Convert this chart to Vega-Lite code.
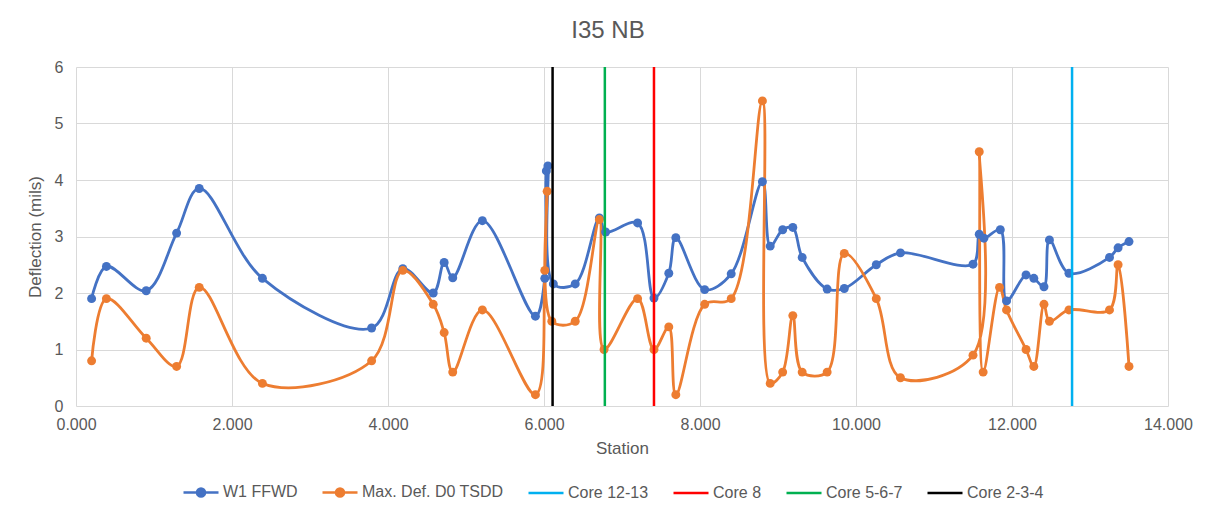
{
  "$schema": "https://vega.github.io/schema/vega-lite/v6.json",
  "autosize": {"type": "none"},
  "width": 1092,
  "height": 339,
  "padding": {"left": 76, "top": 67, "right": 42, "bottom": 114},
  "background": "white",
  "title": {
    "text": "I35 NB",
    "anchor": "middle",
    "dx": -14,
    "offset": 16,
    "fontSize": 24,
    "font": "Liberation Sans",
    "fontWeight": "normal",
    "color": "#595959"
  },
  "config": {
    "view": {"stroke": null},
    "font": "Liberation Sans",
    "axis": {
      "gridColor": "#d9d9d9",
      "gridWidth": 1,
      "domain": false,
      "ticks": false,
      "labelFlush": false,
      "labelColor": "#595959",
      "labelFont": "Liberation Sans",
      "labelFontSize": 16,
      "titleColor": "#595959",
      "titleFont": "Liberation Sans",
      "titleFontSize": 17,
      "titleFontWeight": "normal"
    }
  },
  "datasets": {
    "deflection": [
      {"station": 0.2, "value": 1.9, "series": "W1 FFWD"},
      {"station": 0.39, "value": 2.47, "series": "W1 FFWD"},
      {"station": 0.9, "value": 2.04, "series": "W1 FFWD"},
      {"station": 1.29, "value": 3.06, "series": "W1 FFWD"},
      {"station": 1.58, "value": 3.85, "series": "W1 FFWD"},
      {"station": 2.39, "value": 2.26, "series": "W1 FFWD"},
      {"station": 3.79, "value": 1.38, "series": "W1 FFWD"},
      {"station": 4.19, "value": 2.43, "series": "W1 FFWD"},
      {"station": 4.58, "value": 2.0, "series": "W1 FFWD"},
      {"station": 4.72, "value": 2.54, "series": "W1 FFWD"},
      {"station": 4.83, "value": 2.27, "series": "W1 FFWD"},
      {"station": 5.21, "value": 3.28, "series": "W1 FFWD"},
      {"station": 5.89, "value": 1.59, "series": "W1 FFWD"},
      {"station": 6.01, "value": 2.26, "series": "W1 FFWD"},
      {"station": 6.03, "value": 4.16, "series": "W1 FFWD"},
      {"station": 6.05, "value": 4.25, "series": "W1 FFWD"},
      {"station": 6.12, "value": 2.16, "series": "W1 FFWD"},
      {"station": 6.4, "value": 2.16, "series": "W1 FFWD"},
      {"station": 6.71, "value": 3.33, "series": "W1 FFWD"},
      {"station": 6.79, "value": 3.08, "series": "W1 FFWD"},
      {"station": 7.2, "value": 3.24, "series": "W1 FFWD"},
      {"station": 7.41, "value": 1.91, "series": "W1 FFWD"},
      {"station": 7.6, "value": 2.35, "series": "W1 FFWD"},
      {"station": 7.69, "value": 2.98, "series": "W1 FFWD"},
      {"station": 8.06, "value": 2.06, "series": "W1 FFWD"},
      {"station": 8.4, "value": 2.34, "series": "W1 FFWD"},
      {"station": 8.8, "value": 3.97, "series": "W1 FFWD"},
      {"station": 8.9, "value": 2.83, "series": "W1 FFWD"},
      {"station": 9.06, "value": 3.12, "series": "W1 FFWD"},
      {"station": 9.19, "value": 3.16, "series": "W1 FFWD"},
      {"station": 9.31, "value": 2.63, "series": "W1 FFWD"},
      {"station": 9.63, "value": 2.07, "series": "W1 FFWD"},
      {"station": 9.85, "value": 2.08, "series": "W1 FFWD"},
      {"station": 10.26, "value": 2.5, "series": "W1 FFWD"},
      {"station": 10.57, "value": 2.71, "series": "W1 FFWD"},
      {"station": 11.5, "value": 2.51, "series": "W1 FFWD"},
      {"station": 11.58, "value": 3.04, "series": "W1 FFWD"},
      {"station": 11.64, "value": 2.97, "series": "W1 FFWD"},
      {"station": 11.85, "value": 3.12, "series": "W1 FFWD"},
      {"station": 11.93, "value": 1.86, "series": "W1 FFWD"},
      {"station": 12.18, "value": 2.32, "series": "W1 FFWD"},
      {"station": 12.28, "value": 2.26, "series": "W1 FFWD"},
      {"station": 12.41, "value": 2.11, "series": "W1 FFWD"},
      {"station": 12.48, "value": 2.94, "series": "W1 FFWD"},
      {"station": 12.73, "value": 2.35, "series": "W1 FFWD"},
      {"station": 13.25, "value": 2.63, "series": "W1 FFWD"},
      {"station": 13.36, "value": 2.8, "series": "W1 FFWD"},
      {"station": 13.5, "value": 2.91, "series": "W1 FFWD"},
      {"station": 0.2, "value": 0.8, "series": "Max. Def. D0 TSDD"},
      {"station": 0.39, "value": 1.9, "series": "Max. Def. D0 TSDD"},
      {"station": 0.9, "value": 1.2, "series": "Max. Def. D0 TSDD"},
      {"station": 1.29, "value": 0.7, "series": "Max. Def. D0 TSDD"},
      {"station": 1.58, "value": 2.1, "series": "Max. Def. D0 TSDD"},
      {"station": 2.39, "value": 0.4, "series": "Max. Def. D0 TSDD"},
      {"station": 3.79, "value": 0.8, "series": "Max. Def. D0 TSDD"},
      {"station": 4.19, "value": 2.4, "series": "Max. Def. D0 TSDD"},
      {"station": 4.58, "value": 1.8, "series": "Max. Def. D0 TSDD"},
      {"station": 4.72, "value": 1.3, "series": "Max. Def. D0 TSDD"},
      {"station": 4.83, "value": 0.6, "series": "Max. Def. D0 TSDD"},
      {"station": 5.21, "value": 1.7, "series": "Max. Def. D0 TSDD"},
      {"station": 5.89, "value": 0.2, "series": "Max. Def. D0 TSDD"},
      {"station": 6.01, "value": 2.4, "series": "Max. Def. D0 TSDD"},
      {"station": 6.04, "value": 3.8, "series": "Max. Def. D0 TSDD"},
      {"station": 6.1, "value": 1.5, "series": "Max. Def. D0 TSDD"},
      {"station": 6.4, "value": 1.5, "series": "Max. Def. D0 TSDD"},
      {"station": 6.71, "value": 3.3, "series": "Max. Def. D0 TSDD"},
      {"station": 6.77, "value": 1.0, "series": "Max. Def. D0 TSDD"},
      {"station": 7.2, "value": 1.9, "series": "Max. Def. D0 TSDD"},
      {"station": 7.41, "value": 1.0, "series": "Max. Def. D0 TSDD"},
      {"station": 7.6, "value": 1.4, "series": "Max. Def. D0 TSDD"},
      {"station": 7.69, "value": 0.2, "series": "Max. Def. D0 TSDD"},
      {"station": 8.06, "value": 1.8, "series": "Max. Def. D0 TSDD"},
      {"station": 8.4, "value": 1.9, "series": "Max. Def. D0 TSDD"},
      {"station": 8.8, "value": 5.4, "series": "Max. Def. D0 TSDD"},
      {"station": 8.9, "value": 0.4, "series": "Max. Def. D0 TSDD"},
      {"station": 9.06, "value": 0.6, "series": "Max. Def. D0 TSDD"},
      {"station": 9.19, "value": 1.6, "series": "Max. Def. D0 TSDD"},
      {"station": 9.31, "value": 0.6, "series": "Max. Def. D0 TSDD"},
      {"station": 9.63, "value": 0.6, "series": "Max. Def. D0 TSDD"},
      {"station": 9.85, "value": 2.7, "series": "Max. Def. D0 TSDD"},
      {"station": 10.26, "value": 1.9, "series": "Max. Def. D0 TSDD"},
      {"station": 10.57, "value": 0.5, "series": "Max. Def. D0 TSDD"},
      {"station": 11.5, "value": 0.9, "series": "Max. Def. D0 TSDD"},
      {"station": 11.58, "value": 4.5, "series": "Max. Def. D0 TSDD"},
      {"station": 11.63, "value": 0.6, "series": "Max. Def. D0 TSDD"},
      {"station": 11.84, "value": 2.1, "series": "Max. Def. D0 TSDD"},
      {"station": 11.93, "value": 1.7, "series": "Max. Def. D0 TSDD"},
      {"station": 12.18, "value": 1.0, "series": "Max. Def. D0 TSDD"},
      {"station": 12.28, "value": 0.7, "series": "Max. Def. D0 TSDD"},
      {"station": 12.41, "value": 1.8, "series": "Max. Def. D0 TSDD"},
      {"station": 12.48, "value": 1.5, "series": "Max. Def. D0 TSDD"},
      {"station": 12.73, "value": 1.7, "series": "Max. Def. D0 TSDD"},
      {"station": 13.25, "value": 1.7, "series": "Max. Def. D0 TSDD"},
      {"station": 13.36, "value": 2.5, "series": "Max. Def. D0 TSDD"},
      {"station": 13.5, "value": 0.7, "series": "Max. Def. D0 TSDD"}
    ],
    "cores": [
      {"station": 12.77, "series": "Core 12-13"},
      {"station": 7.41, "series": "Core 8"},
      {"station": 6.78, "series": "Core 5-6-7"},
      {"station": 6.11, "series": "Core 2-3-4"}
    ]
  },
  "layer": [
    {
      "data": {"name": "deflection"},
      "mark": {
        "type": "line",
        "interpolate": "catmull-rom",
        "strokeWidth": 2.8,
        "point": {"filled": true, "size": 80, "opacity": 1}
      },
      "encoding": {
        "x": {
          "field": "station",
          "type": "quantitative",
          "title": "Station",
          "scale": {"domain": [0, 14], "nice": false, "zero": false},
          "axis": {"values": [0, 2, 4, 6, 8, 10, 12, 14], "format": ".3f", "labelPadding": 10, "titlePadding": 8}
        },
        "y": {
          "field": "value",
          "type": "quantitative",
          "title": "Deflection (mils)",
          "scale": {"domain": [0, 6], "nice": false},
          "axis": {"values": [0, 1, 2, 3, 4, 5, 6], "labelPadding": 13, "titlePadding": 10}
        },
        "color": {
          "field": "series",
          "type": "nominal",
          "scale": {
            "domain": ["W1 FFWD", "Max. Def. D0 TSDD", "Core 12-13", "Core 8", "Core 5-6-7", "Core 2-3-4"],
            "range": ["#4472C4", "#ED7D31", "#00B0F0", "#FF0000", "#00B050", "#000000"]
          },
          "legend": {
            "title": null,
            "orient": "none",
            "legendX": 106,
            "legendY": 406,
            "direction": "horizontal",
            "columns": 6,
            "columnPadding": 19,
            "labelOffset": 3,
            "labelFont": "Liberation Sans",
            "labelFontSize": 16,
            "labelColor": "#595959",
            "symbolSize": 1225,
            "symbolStrokeWidth": 2.5,
            "symbolType": "stroke",
            "encode": {
              "symbols": {
                "update": {
                  "shape": {"signal": "datum.value === 'W1 FFWD' || datum.value === 'Max. Def. D0 TSDD' ? 'M-1,0L1,0M0.23,0A0.23,0.23,0,1,1,-0.23,0A0.23,0.23,0,1,1,0.23,0Z' : 'stroke'"},
                  "fill": {"scale": "color", "field": "value"},
                  "stroke": {"scale": "color", "field": "value"},
                  "strokeWidth": {"value": 2.5},
                  "opacity": {"value": 1}
                }
              }
            }
          }
        }
      }
    },
    {
      "data": {"name": "cores"},
      "mark": {"type": "rule", "strokeWidth": 2.5},
      "encoding": {
        "x": {"field": "station", "type": "quantitative"},
        "color": {"field": "series", "type": "nominal"}
      }
    }
  ]
}
